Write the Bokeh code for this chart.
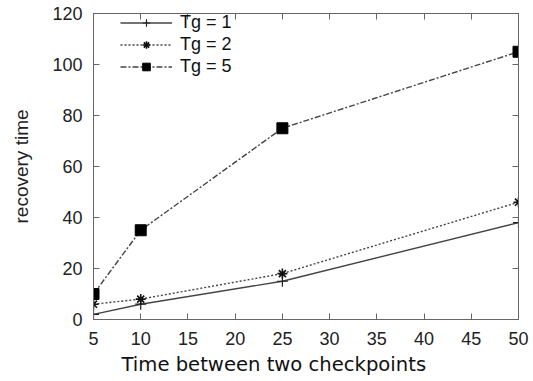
from bokeh.plotting import figure
from bokeh.models import LinearAxis, Range1d, Legend, LegendItem, FixedTicker, Title
from bokeh.embed import file_html
from bokeh.resources import INLINE

x_vals = [5, 10, 25, 50]
tg1 = [2, 6, 15, 38]
tg2 = [6, 8, 18, 46]
tg5 = [10, 35, 75, 105]
x_ticks = [5, 10, 15, 20, 25, 30, 35, 40, 45, 50]
y_ticks = [0, 20, 40, 60, 80, 100, 120]
x_title = "Time between two checkpoints"
y_title = "recovery time"

p = figure(width=533, height=381, output_backend="svg", toolbar_location=None,
           x_range=Range1d(5, 50), y_range=Range1d(0, 120),
           min_border_left=93, min_border_right=15, min_border_top=13, min_border_bottom=62,
           y_axis_label=y_title)
p.grid.visible = False
p.outline_line_color = "#666666"
p.outline_line_width = 1
p.background_fill_color = "white"
p.border_fill_color = "white"

tick_font = "Liberation Sans"
for ax in p.xaxis + p.yaxis:
    ax.major_tick_in = 6
    ax.major_tick_out = 0
    ax.minor_tick_in = 0
    ax.minor_tick_out = 0
    ax.axis_line_color = "#666666"
    ax.major_tick_line_color = "#666666"
    ax.major_label_text_font = tick_font
    ax.major_label_text_font_size = "18px"
    ax.major_label_text_color = "#222222"
p.xaxis.ticker = FixedTicker(ticks=x_ticks)
p.yaxis.ticker = FixedTicker(ticks=y_ticks)
p.xaxis.major_label_standoff = 12
p.yaxis.major_label_standoff = 11
p.yaxis.axis_label_text_font = "Liberation Sans"
p.yaxis.axis_label_text_font_style = "normal"
p.yaxis.axis_label_text_font_size = "19px"
p.yaxis.axis_label_text_color = "#222222"
p.yaxis.axis_label_standoff = 17

# x-axis title, set slightly left of the frame centre as in the reference
p.add_layout(Title(text=x_title, align="left", offset=28, standoff=7,
                   text_font="DejaVu Sans", text_font_size="19.6px",
                   text_font_style="normal", text_color="#111111"), "below")

for loc, ticks in (("right", y_ticks), ("above", x_ticks)):
    ax = LinearAxis(ticker=FixedTicker(ticks=ticks), major_tick_in=6, major_tick_out=0,
                    minor_tick_in=0, minor_tick_out=0, axis_line_color="#666666",
                    major_tick_line_color="#666666", major_label_text_alpha=0,
                    major_label_text_font_size="1px", major_label_standoff=0)
    p.add_layout(ax, loc)

col = "#444444"
r1 = p.line(x_vals, tg1, line_color=col, line_width=1.4)
m1 = p.scatter(x_vals, tg1, marker="cross", size=11, line_color="#222222", line_width=1.2)
r2 = p.line(x_vals, tg2, line_color=col, line_width=1.4, line_dash="2 2")
m2 = p.scatter(x_vals, tg2, marker="asterisk", size=10, line_color="#111111", line_width=1.6)
r5 = p.line(x_vals, tg5, line_color=col, line_width=1.4, line_dash="6 2 2 2")
m5 = p.scatter(x_vals, tg5, marker="square", size=11, fill_color="black", line_color="black")

legend = Legend(items=[LegendItem(label="Tg = 1", renderers=[r1, m1]),
                       LegendItem(label="Tg = 2", renderers=[r2, m2]),
                       LegendItem(label="Tg = 5", renderers=[r5, m5])],
                location=(27, 242), border_line_alpha=0, background_fill_alpha=0,
                glyph_width=52, glyph_height=19, label_text_font="Liberation Sans",
                label_text_font_size="18px", label_text_color="#111111",
                spacing=1, padding=0, margin=0, label_standoff=8, label_height=19)
p.add_layout(legend)

open("out.html", "w").write(file_html(p, INLINE))
